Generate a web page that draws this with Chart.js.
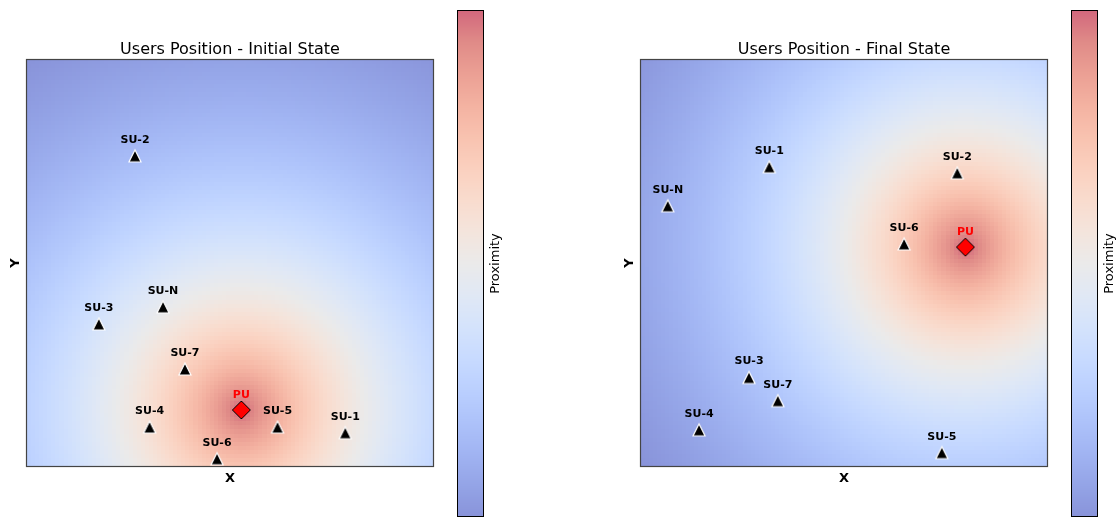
<!DOCTYPE html>
<html>
<head>
<meta charset="utf-8">
<script src="https://cdn.jsdelivr.net/npm/chart.js@4/dist/chart.umd.min.js"></script>
<style>
  html, body { margin: 0; padding: 0; background: #fff; }
  #wrap { position: relative; width: 1117px; height: 518px; overflow: hidden; }
  #wrap canvas { position: absolute; top: 0; }
</style>
</head>
<body>
<div id="wrap">
  <canvas id="initialPanel" width="558" height="518" style="left:0"></canvas>
  <canvas id="finalPanel" width="559" height="518" style="left:558px"></canvas>
</div>
<script>
// ---- user positions (area coordinates, 0..100 on both axes) ----
const userLabels = ['SU-1', 'SU-2', 'SU-3', 'SU-4', 'SU-5', 'SU-6', 'SU-7', 'SU-N'];

const initialX = [78.4, 26.6, 17.7, 30.2, 61.7, 46.8, 38.9, 33.5];
const initialY = [8.2, 76.4, 35.0, 9.6, 9.6, 1.8, 23.9, 39.2];

const finalX = [31.6, 77.9, 26.6, 14.3, 74.1, 64.8, 33.7, 6.6];
const finalY = [73.7, 72.2, 21.8, 8.9, 3.3, 54.7, 16.1, 64.1];

// primary user position in each state: [x, y]
const puInitial = [52.8, 13.8];
const puFinal = [79.9, 53.9];

const puLabel = 'PU';
const panelTitles = ['Users Position - Initial State', 'Users Position - Final State'];
const axisLabels = ['X', 'Y'];
const colorbarLabel = 'Proximity';

// ---- proximity field settings ----
const AREA_MIN = 0, AREA_MAX = 100;
const GRID_N = 100;          // field resolution (cells per side)
const FIELD_DECAY = 55;      // distance scale of exp(-d / decay)
const FIELD_ALPHA = 0.6;     // field / colorbar opacity

// matplotlib "coolwarm" colormap samples
const COOLWARM = [
  [58, 76, 193], [77, 104, 215], [98, 130, 234], [119, 154, 247], [141, 176, 254],
  [163, 194, 255], [184, 208, 249], [204, 217, 238], [221, 220, 220], [236, 211, 197],
  [245, 196, 173], [247, 177, 148], [244, 154, 123], [236, 127, 99], [222, 96, 77],
  [203, 62, 56], [180, 4, 38]
];

function coolwarm(t) {
  t = Math.max(0, Math.min(1, t));
  const p = t * (COOLWARM.length - 1);
  const i = Math.min(Math.floor(p), COOLWARM.length - 2);
  const f = p - i;
  const a = COOLWARM[i], b = COOLWARM[i + 1];
  // blend over white with the field opacity
  const c = [0, 1, 2].map(k => {
    const v = a[k] + (b[k] - a[k]) * f;
    return Math.round(v * FIELD_ALPHA + 255 * (1 - FIELD_ALPHA));
  });
  return `rgb(${c[0]},${c[1]},${c[2]})`;
}

function proximity(x, y, pu) {
  return Math.exp(-Math.hypot(x - pu[0], y - pu[1]) / FIELD_DECAY);
}

// ---- marker sprites ----
function makeSprite(size, draw) {
  const c = document.createElement('canvas');
  c.width = size; c.height = size;
  draw(c.getContext('2d'), size / 2);
  return c;
}
const triangleSprite = makeSprite(20, (g, m) => {
  g.beginPath();
  g.moveTo(m, m - 6);
  g.lineTo(m + 6, m + 6);
  g.lineTo(m - 6, m + 6);
  g.closePath();
  g.fillStyle = '#000';
  g.fill();
  g.lineWidth = 1.2;
  g.strokeStyle = '#fff';
  g.stroke();
});
const diamondSprite = makeSprite(24, (g, m) => {
  const r = 9;
  g.beginPath();
  g.moveTo(m, m - r);
  g.lineTo(m + r, m);
  g.lineTo(m, m + r);
  g.lineTo(m - r, m);
  g.closePath();
  g.fillStyle = '#ff0000';
  g.fill();
  g.lineWidth = 1;
  g.strokeStyle = '#000';
  g.stroke();
});

// ---- plugin: proximity field, frame, colorbar, texts ----
const panelDecor = {
  id: 'panelDecor',
  beforeDatasetsDraw(chart, args, opts) {
    const { ctx, chartArea: area } = chart;
    const xs = chart.scales.x, ys = chart.scales.y;
    const step = (AREA_MAX - AREA_MIN) / GRID_N;

    // field values at cell centres
    const vals = [];
    let vmin = Infinity, vmax = -Infinity;
    for (let j = 0; j < GRID_N; j++) {
      for (let i = 0; i < GRID_N; i++) {
        const v = proximity(AREA_MIN + (i + 0.5) * step, AREA_MIN + (j + 0.5) * step, opts.pu);
        vals.push(v);
        if (v < vmin) vmin = v;
        if (v > vmax) vmax = v;
      }
    }
    ctx.save();
    for (let j = 0; j < GRID_N; j++) {
      const yTop = Math.round(ys.getPixelForValue(AREA_MIN + (j + 1) * step));
      const yBot = Math.round(ys.getPixelForValue(AREA_MIN + j * step));
      for (let i = 0; i < GRID_N; i++) {
        const xL = Math.round(xs.getPixelForValue(AREA_MIN + i * step));
        const xR = Math.round(xs.getPixelForValue(AREA_MIN + (i + 1) * step));
        ctx.fillStyle = coolwarm((vals[j * GRID_N + i] - vmin) / (vmax - vmin));
        ctx.fillRect(xL, yTop, xR - xL, yBot - yTop);
      }
    }

    // plot frame
    ctx.strokeStyle = '#444';
    ctx.lineWidth = 1.2;
    ctx.strokeRect(area.left - 0.5, area.top - 0.5, area.right - area.left + 1, area.bottom - area.top + 1);

    // colorbar
    const cbL = area.right + 25, cbW = 25, cbT = 11, cbB = 516;
    const h = cbB - cbT;
    for (let k = 0; k < h; k++) {
      ctx.fillStyle = coolwarm(1 - (k + 0.5) / h);
      ctx.fillRect(cbL, cbT + k, cbW, 1);
    }
    ctx.strokeStyle = '#000';
    ctx.lineWidth = 1;
    ctx.strokeRect(cbL - 0.5, cbT - 0.5, cbW + 1, h + 1);

    // texts
    const cx = (area.left + area.right) / 2;
    const cy = (area.top + area.bottom) / 2;
    ctx.fillStyle = '#000';
    ctx.textAlign = 'center';
    ctx.textBaseline = 'alphabetic';
    ctx.font = '16px "DejaVu Sans"';
    ctx.fillText(opts.title, cx, area.top - 6);

    ctx.font = 'bold 13px "DejaVu Sans"';
    ctx.fillText(axisLabels[0], cx, area.bottom + 16);
    ctx.save();
    ctx.translate(area.left - 8, cy);
    ctx.rotate(-Math.PI / 2);
    ctx.fillText(axisLabels[1], 0, 0);
    ctx.restore();

    ctx.font = '13px "DejaVu Sans"';
    ctx.save();
    ctx.translate(cbL + cbW + 15.5, (cbT + cbB) / 2);
    ctx.rotate(-Math.PI / 2);
    ctx.fillText(colorbarLabel, 0, 0);
    ctx.restore();
    ctx.restore();
  },
  afterDatasetsDraw(chart) {
    const { ctx } = chart;
    ctx.save();
    ctx.textAlign = 'center';
    ctx.textBaseline = 'alphabetic';
    ctx.font = 'bold 11px "DejaVu Sans"';
    chart.data.datasets.forEach((ds, di) => {
      const meta = chart.getDatasetMeta(di);
      ctx.fillStyle = ds.textColor;
      meta.data.forEach((pt, i) => {
        ctx.fillText(ds.names[i], pt.x, pt.y - ds.textGap);
      });
    });
    ctx.restore();
  }
};

function makePanel(canvasId, title, xs, ys, pu, padding) {
  new Chart(document.getElementById(canvasId), {
    type: 'scatter',
    data: {
      datasets: [
        {
          label: 'SU',
          data: xs.map((x, i) => ({ x, y: ys[i] })),
          names: userLabels,
          textColor: '#000',
          textGap: 13,
          pointStyle: triangleSprite,
          pointRadius: 10,
          pointHoverRadius: 10,
          clip: false
        },
        {
          label: 'PU',
          data: [{ x: pu[0], y: pu[1] }],
          names: [puLabel],
          textColor: '#ff0000',
          textGap: 12,
          pointStyle: diamondSprite,
          pointRadius: 12,
          pointHoverRadius: 12,
          clip: false
        }
      ]
    },
    options: {
      responsive: false,
      animation: false,
      devicePixelRatio: 1,
      events: [],
      layout: { padding },
      scales: {
        x: { type: 'linear', min: AREA_MIN, max: AREA_MAX, display: false },
        y: { type: 'linear', min: AREA_MIN, max: AREA_MAX, display: false }
      },
      plugins: {
        legend: { display: false },
        tooltip: { enabled: false },
        panelDecor: { title, pu }
      }
    },
    plugins: [panelDecor]
  });
}

makePanel('initialPanel', panelTitles[0], initialX, initialY, puInitial,
  { left: 27, top: 60, right: 558 - 433, bottom: 52 });
makePanel('finalPanel', panelTitles[1], finalX, finalY, puFinal,
  { left: 641 - 558, top: 60, right: 1117 - 1047, bottom: 52 });
</script>
</body>
</html>
